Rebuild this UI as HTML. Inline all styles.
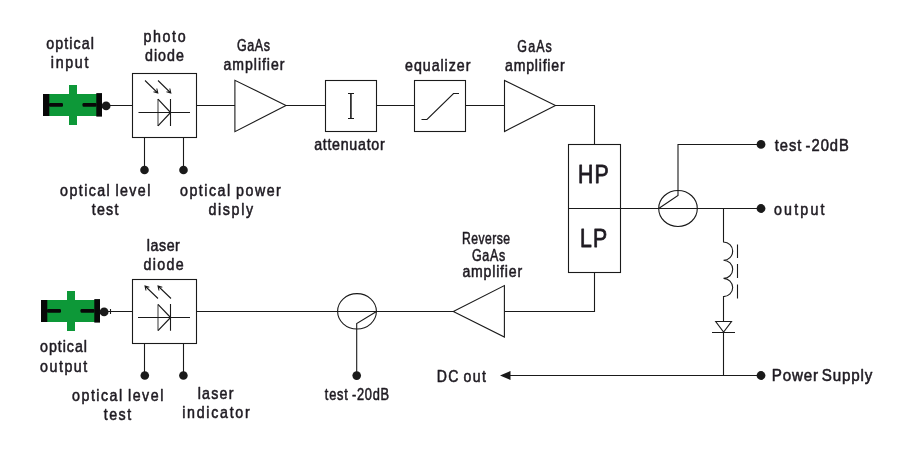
<!DOCTYPE html>
<html lang="en">
<head>
<meta charset="utf-8">
<title>Optical node block diagram</title>
<style>
html,body{margin:0;padding:0;background:#fff;}
body{width:902px;height:451px;overflow:hidden;}
svg{display:block;will-change:transform;}
</style>
</head>
<body>
<svg width="902" height="451" viewBox="0 0 902 451" role="img" aria-label="Optical node block diagram">
<rect width="902" height="451" fill="#ffffff"/>
<g fill="none" stroke="#1a1a1a" stroke-width="1.1">
<path d="M106 105.5H132.5 M196.5 105.5H235 M286 105.5H325.5 M376.5 105.5H414.5 M465.5 105.5H504.5 M555 105.5H594.5V144.5"/>
<rect x="132.5" y="73.5" width="64" height="64"/>
<path d="M144.5 137.5V170 M183.5 137.5V170"/>
<path d="M158 99V126" stroke="#4a4a4a"/>
<path d="M158 99.2L170.6 112.5L158 125.8" stroke-width="1.2"/>
<path d="M138.5 112.5H190 M170.5 99V126"/>
<path d="M145 80.5L157.8 93 M153.5 91.8L157.8 93L156.8 88.5 M158 80.5L170.8 93 M166.5 91.8L170.8 93L169.8 88.5" stroke-width="1.05"/>
<path d="M234.9 80.3V131.7L286 105.5Z"/>
<rect x="325.5" y="80.5" width="51" height="51"/>
<path d="M350.9 93.5V118.5" stroke-width="1.6"/><path d="M348 93.5H354 M348 118.5H354"/>
<rect x="414.5" y="80.5" width="51" height="51"/>
<path d="M421.5 119.5H427L453.5 93.5H459"/>
<path d="M504.5 80.5V131.5L555.5 105.5Z"/>
<rect x="568.5" y="144.5" width="52" height="128"/>
<path d="M568.5 208.5H760"/>
<path d="M594.5 272.5V311.5H504.5"/>
<ellipse cx="678" cy="208.5" rx="19.3" ry="18"/>
<path d="M658.7 208.5L678 195.5V144.5H760"/>
<path d="M723.5 208.5V242 a9.2 9.1 0 0 1 0 18.2 a9.2 9.1 0 0 1 0 18.2 a9.2 9.1 0 0 1 0 18.2 V321.5 M723.5 332V375.5"/>
<path d="M737.5 244.5V258 M737.5 264V278 M737.5 284.5V298.5"/>
<path d="M715.7 321.5H731.5L723.6 332Z M712 332.5H735"/>
<path d="M508 375.5H760"/>
<path d="M104 311.5H132.5 M196.5 311.5H453.5 M110.5 309V314"/>
<rect x="132.5" y="279.5" width="64" height="64"/>
<path d="M144.5 343.5V375.5 M183.5 343.5V375.5"/>
<path d="M158 304.5V330.5" stroke="#4a4a4a"/>
<path d="M158 304.3L170.6 317.5L158 330.7" stroke-width="1.2"/>
<path d="M138 317.5H190 M170.5 304V330.7"/>
<path d="M158 298.5L145 286 M146 290.5L145 286L149.3 287.2 M171 298.5L158 286 M159 290.5L158 286L162.3 287.2" stroke-width="1.05"/>
<ellipse cx="357" cy="311.3" rx="19.4" ry="17.7"/>
<path d="M376.5 311.5L356.7 323.6V375.5"/>
<path d="M504.4 285.6V337L453.3 311.4Z"/>
</g>
<g fill="#1a1a1a">
<circle cx="144.5" cy="170" r="4.3"/>
<circle cx="183.5" cy="170" r="4.3"/>
<circle cx="761.0" cy="144.4" r="4.4"/>
<circle cx="761.0" cy="208.5" r="4.4"/>
<circle cx="761.0" cy="375.5" r="4.4"/>
<circle cx="144.8" cy="375.5" r="4.3"/>
<circle cx="183.4" cy="375.5" r="4.3"/>
<circle cx="356.7" cy="375.6" r="4.3"/>
<path d="M500 375.5L510.5 371V380Z"/>
</g>
<rect x="69" y="85" width="8" height="40" fill="#0d9838"/>
<rect x="48" y="94" width="49" height="22" fill="#0d9838"/>
<rect x="43" y="94" width="6.3" height="22" fill="#080808"/>
<rect x="96.3" y="93.1" width="5.7" height="23.5" fill="#080808"/>
<rect x="49" y="103" width="14" height="3.7" rx="1.2" fill="#080808"/>
<rect x="82.5" y="103" width="14" height="3.7" rx="1.2" fill="#080808"/>
<circle cx="106.1" cy="105.9" r="4.4" fill="#1a1a1a"/>
<rect x="67" y="291" width="8" height="40" fill="#0d9838"/>
<rect x="46" y="300" width="49" height="22" fill="#0d9838"/>
<rect x="41" y="300" width="6.3" height="22" fill="#080808"/>
<rect x="94.3" y="299.1" width="5.7" height="23.5" fill="#080808"/>
<rect x="47" y="309" width="14" height="3.7" rx="1.2" fill="#080808"/>
<rect x="80.5" y="309" width="14" height="3.7" rx="1.2" fill="#080808"/>
<circle cx="104.1" cy="311.9" r="4.4" fill="#1a1a1a"/>
<g font-family="'Liberation Sans', Arial, sans-serif" fill="#1f1b22" stroke="#1f1b22" stroke-width="0.55" stroke-linejoin="round">
<text id="t0" transform="translate(46.18,48.9) scale(0.89,1)" font-size="16" textLength="53.76" lengthAdjust="spacing">optical</text>
<text id="t1" transform="translate(50.80,67.9) scale(0.89,1)" font-size="16" textLength="42.27" lengthAdjust="spacing">input</text>
<text id="t2" transform="translate(143.62,41.6) scale(0.89,1)" font-size="16" textLength="47.12" lengthAdjust="spacing">photo</text>
<text id="t3" transform="translate(145.05,60.5) scale(0.89,1)" font-size="16" textLength="43.61" lengthAdjust="spacing">diode</text>
<text id="t4" transform="translate(236.89,51.0) scale(0.78,1)" font-size="16" textLength="42.60" lengthAdjust="spacing">GaAs</text>
<text id="t5" transform="translate(223.46,69.9) scale(0.88,1)" font-size="16" textLength="69.35" lengthAdjust="spacing">amplifier</text>
<text id="t6" transform="translate(314.14,149.6) scale(0.89,1)" font-size="16" textLength="79.27" lengthAdjust="spacing">attenuator</text>
<text id="t7" transform="translate(405.08,71.0) scale(0.89,1)" font-size="16" textLength="73.38" lengthAdjust="spacing">equalizer</text>
<text id="t8" transform="translate(517.36,52.2) scale(0.78,1)" font-size="16" textLength="44.18" lengthAdjust="spacing">GaAs</text>
<text id="t9" transform="translate(505.07,71.0) scale(0.88,1)" font-size="16" textLength="67.69" lengthAdjust="spacing">amplifier</text>
<text id="t10" transform="translate(60.11,196.3) scale(0.89,1)" font-size="16" word-spacing="-1.3" textLength="101.39" lengthAdjust="spacing">optical level</text>
<text id="t11" transform="translate(91.65,215.0) scale(0.89,1)" font-size="16" textLength="30.10" lengthAdjust="spacing">test</text>
<text id="t12" transform="translate(180.10,196.3) scale(0.89,1)" font-size="16" word-spacing="-1" textLength="113.11" lengthAdjust="spacing">optical power</text>
<text id="t13" transform="translate(208.49,215.0) scale(0.89,1)" font-size="16" textLength="50.08" lengthAdjust="spacing">disply</text>
<text id="t14" stroke-width="0.8" transform="translate(577.96,182.9) scale(0.85,1)" font-size="25" textLength="36.08" lengthAdjust="spacing">HP</text>
<text id="t15" stroke-width="0.8" transform="translate(579.92,247.2) scale(0.85,1)" font-size="25" textLength="32.09" lengthAdjust="spacing">LP</text>
<text id="t16" transform="translate(774.66,151.0) scale(0.92,1)" font-size="16" word-spacing="-2.2" textLength="80.66" lengthAdjust="spacing">test -20dB</text>
<text id="t17" transform="translate(773.98,214.6) scale(0.89,1)" font-size="16" textLength="56.70" lengthAdjust="spacing">output</text>
<text id="t18" transform="translate(771.71,380.8) scale(0.95,1)" font-size="16" word-spacing="-2.2" textLength="105.99" lengthAdjust="spacing">Power Supply</text>
<text id="t19" transform="translate(146.77,250.5) scale(0.89,1)" font-size="16" textLength="37.19" lengthAdjust="spacing">laser</text>
<text id="t20" transform="translate(143.49,269.5) scale(0.89,1)" font-size="16" textLength="45.12" lengthAdjust="spacing">diode</text>
<text id="t21" transform="translate(40.05,352.0) scale(0.89,1)" font-size="16" textLength="52.67" lengthAdjust="spacing">optical</text>
<text id="t22" transform="translate(40.05,371.5) scale(0.89,1)" font-size="16" textLength="52.97" lengthAdjust="spacing">output</text>
<text id="t23" transform="translate(72.05,401.0) scale(0.89,1)" font-size="16" word-spacing="-1.3" textLength="102.56" lengthAdjust="spacing">optical level</text>
<text id="t24" transform="translate(103.71,420.0) scale(0.89,1)" font-size="16" textLength="30.91" lengthAdjust="spacing">test</text>
<text id="t25" transform="translate(197.77,399.0) scale(0.89,1)" font-size="16" textLength="40.02" lengthAdjust="spacing">laser</text>
<text id="t26" transform="translate(182.16,417.6) scale(0.89,1)" font-size="16" textLength="75.88" lengthAdjust="spacing">indicator</text>
<text id="t27" transform="translate(462.00,243.5) scale(0.76,1)" font-size="16" textLength="63.32" lengthAdjust="spacing">Reverse</text>
<text id="t28" transform="translate(471.92,260.9) scale(0.78,1)" font-size="16" textLength="42.73" lengthAdjust="spacing">GaAs</text>
<text id="t29" transform="translate(462.39,277.3) scale(0.88,1)" font-size="16" textLength="67.89" lengthAdjust="spacing">amplifier</text>
<text id="t30" transform="translate(324.85,399.7) scale(0.8,1)" font-size="16" word-spacing="-1.2" textLength="80.31" lengthAdjust="spacing">test -20dB</text>
<text id="t31" transform="translate(436.73,382.0) scale(0.88,1)" font-size="16" word-spacing="-2" textLength="55.99" lengthAdjust="spacing">DC out</text>
</g>
</svg>
</body>
</html>
